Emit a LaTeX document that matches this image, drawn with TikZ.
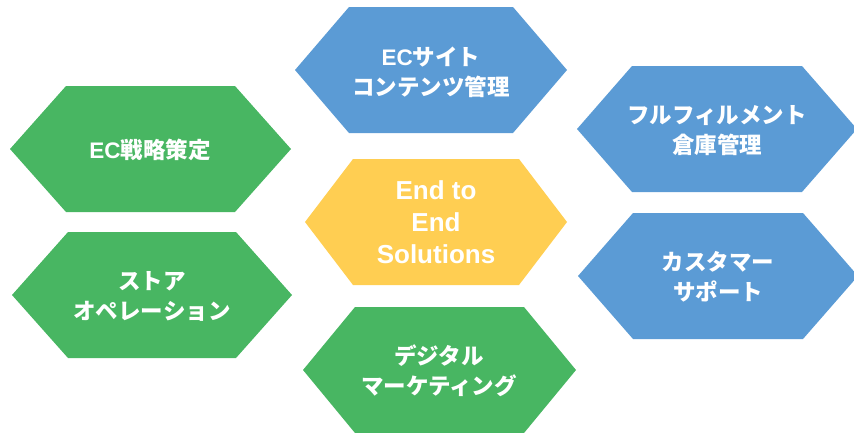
\documentclass[tikz,border=0pt]{standalone}
\usepackage{fontspec}
\setmainfont{Liberation Sans}
\newfontfamily\cjk{Noto Sans CJK JP}
\definecolor{hexblue}{HTML}{5B9BD5}
\definecolor{hexgreen}{HTML}{48B662}
\definecolor{hexyellow}{HTML}{FFCE52}
% hexagon pointed left and right: colour, left, top, right, bottom, corner inset
\newcommand\hexshape[6]{%
  \fill[#1] (#2,{(#3+#5)/2}) -- ({#2+#6},#3) -- ({#4-#6},#3)
    -- (#4,{(#3+#5)/2}) -- ({#4-#6},#5) -- ({#2+#6},#5) -- cycle;}
\begin{document}
\begin{tikzpicture}[x=1pt,y=-1pt,
  jplabel/.style={text=white, align=center, inner sep=0pt,
    font=\cjk\bfseries\fontsize{22.5}{30}\selectfont},
  corelabel/.style={text=white, align=center, inner sep=0pt,
    font=\bfseries\fontsize{26}{32}\selectfont}]
\useasboundingbox (0,0) rectangle (854,432);
% blue: operations
\hexshape{hexblue}{295}{7}{567}{133}{54}
\hexshape{hexblue}{577}{66}{857}{192}{55}
\hexshape{hexblue}{578}{213}{858}{339}{55}
% green: strategy and marketing
\hexshape{hexgreen}{10}{86}{291}{212}{56}
\hexshape{hexgreen}{12}{232}{292}{358}{56}
\hexshape{hexgreen}{303}{307}{576}{433}{52}
% yellow: core
\hexshape{hexyellow}{305}{159}{567}{285}{48}

\node[jplabel] (site) at (431,72) {{\rmfamily EC}サイト\\コンテンツ管理};
\node[jplabel] (fulfil) at (717,131) {フルフィルメント\\倉庫管理};
\node[jplabel] (support) at (718,277) {カスタマー\\サポート};
\node[jplabel] (strategy) at (150,150) {{\rmfamily EC}戦略策定};
\node[jplabel] (store) at (152,296) {ストア\\オペレーション};
\node[jplabel] (digital) at (439,371) {デジタル\\マーケティング};
\node[corelabel] (core) at (436,222) {End to\\End\\Solutions};
\end{tikzpicture}
\end{document}
